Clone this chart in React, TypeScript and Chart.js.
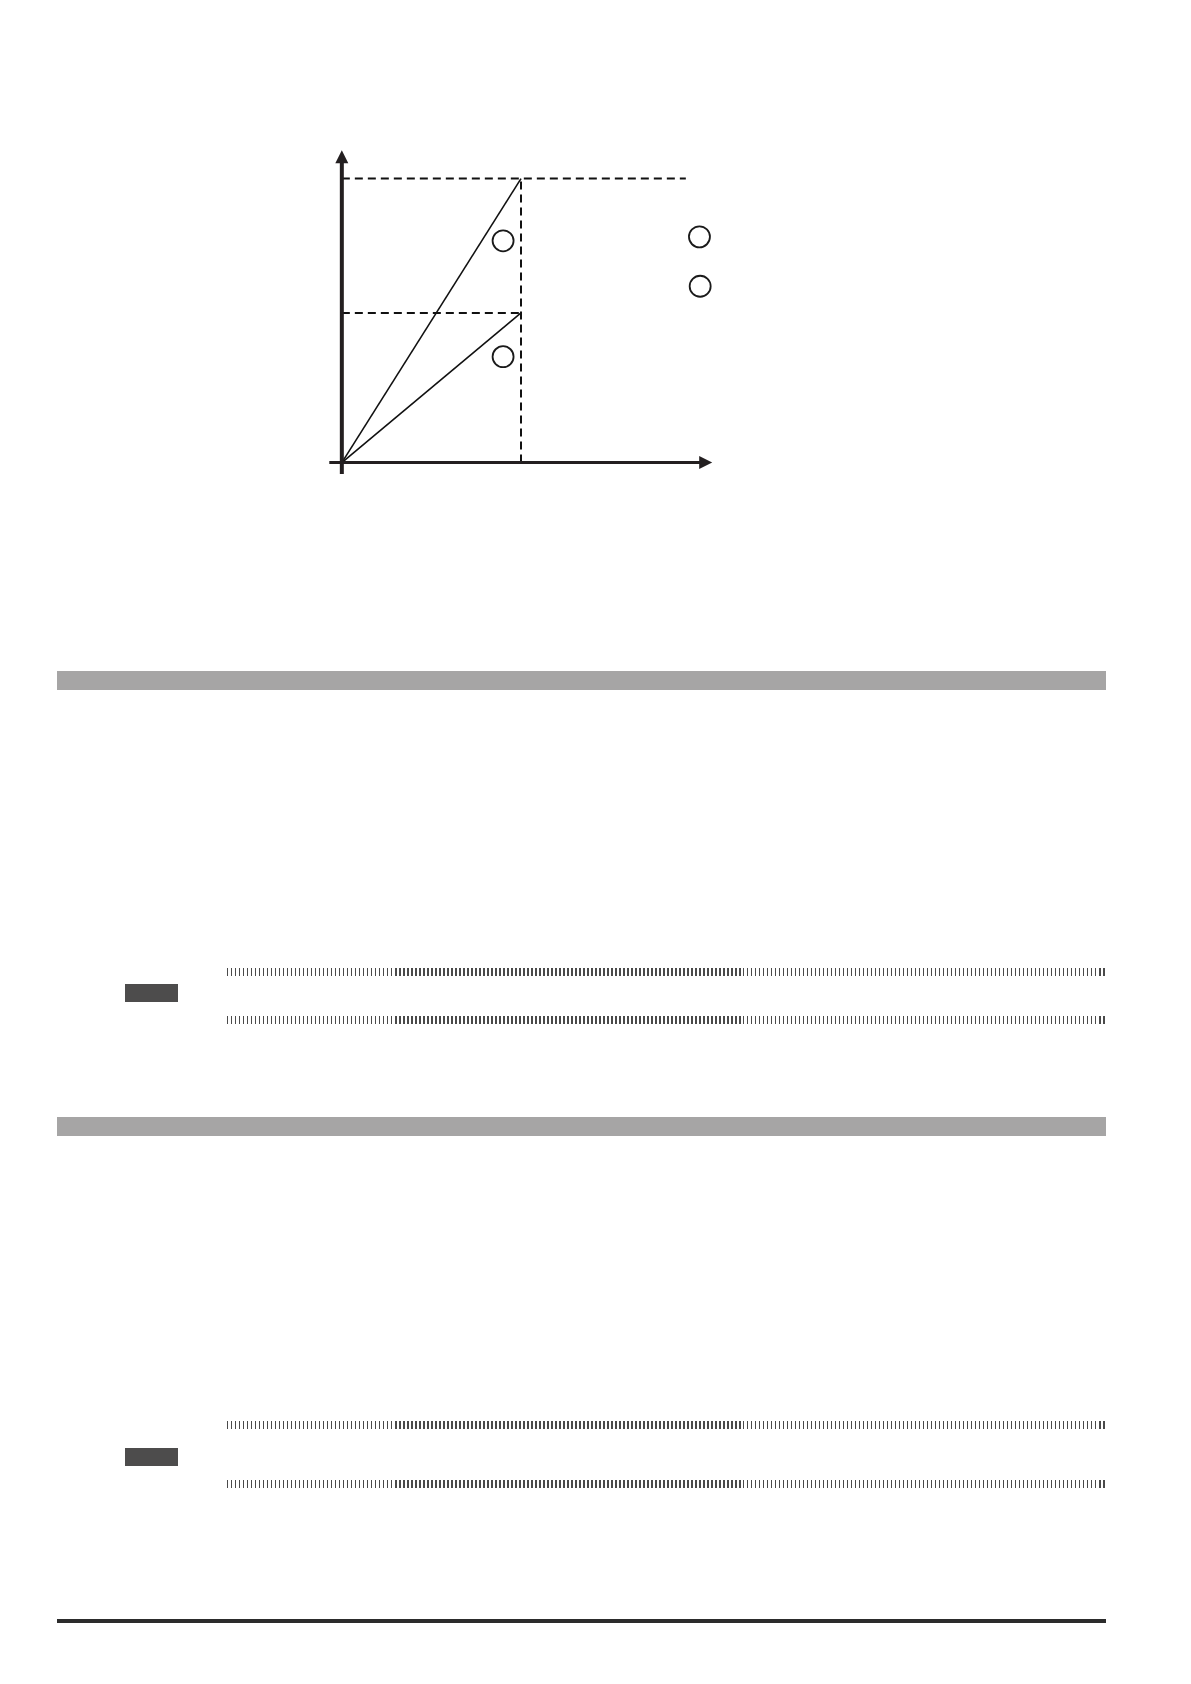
import React, { useEffect, useRef } from 'react';
import { Chart, registerables } from 'chart.js';

Chart.register(...registerables);

// diagram values (origin = 0,0; dashed vertical at x = 1; top level at y = 1)
const steepLine = [{ x: 0, y: 0 }, { x: 1, y: 1 }];
const shallowLine = [{ x: 0, y: 0 }, { x: 1, y: 0.527 }];
const topLevel = [{ x: 0, y: 1 }, { x: 1.92, y: 1 }];
const midLevel = [{ x: 0, y: 0.527 }, { x: 1, y: 0.527 }];
const dropLine = [{ x: 1, y: 0 }, { x: 1, y: 1 }];
const markers = [
    { x: 0.9, y: 0.781 },
    { x: 0.9, y: 0.373 },
    { x: 1.996, y: 0.795 },
    { x: 2.0, y: 0.621 },
];
const xAxisExtent = [-0.07, 2.067];
const yAxisExtent = [-0.04, 1.1];
const xRange = [-0.2, 2.2];
const yRange = [-0.1, 1.15];

const axisArrows = {
    id: 'axisArrows',
    afterDatasetsDraw(chart: Chart) {
        const { ctx } = chart;
        const xs = chart.scales.x;
        const ys = chart.scales.y;
        const ox = xs.getPixelForValue(0);
        const oy = ys.getPixelForValue(0);
        ctx.save();
        ctx.strokeStyle = '#231f20';
        ctx.fillStyle = '#231f20';
        // x axis
        const xEnd = xs.getPixelForValue(xAxisExtent[1]);
        ctx.lineWidth = 3;
        ctx.beginPath();
        ctx.moveTo(xs.getPixelForValue(xAxisExtent[0]), oy);
        ctx.lineTo(xEnd - 10, oy);
        ctx.stroke();
        ctx.beginPath();
        ctx.moveTo(xEnd, oy);
        ctx.lineTo(xEnd - 13, oy - 6.5);
        ctx.lineTo(xEnd - 13, oy + 6.5);
        ctx.closePath();
        ctx.fill();
        // y axis
        const yEnd = ys.getPixelForValue(yAxisExtent[1]);
        ctx.lineWidth = 4;
        ctx.beginPath();
        ctx.moveTo(ox, ys.getPixelForValue(yAxisExtent[0]));
        ctx.lineTo(ox, yEnd + 10);
        ctx.stroke();
        ctx.beginPath();
        ctx.moveTo(ox, yEnd);
        ctx.lineTo(ox - 6.5, yEnd + 13);
        ctx.lineTo(ox + 6.5, yEnd + 13);
        ctx.closePath();
        ctx.fill();
        ctx.restore();
    },
};

const solid = (data: { x: number; y: number }[]) => ({
    type: 'line' as const,
    data,
    borderColor: '#111111',
    borderWidth: 1.6,
    pointRadius: 0,
    fill: false,
});

const dashed = (data: { x: number; y: number }[]) => ({
    type: 'line' as const,
    data,
    borderColor: '#111111',
    borderWidth: 2,
    borderDash: [8, 5],
    pointRadius: 0,
    fill: false,
});

const Diagram: React.FC = () => {
    const chartRef = useRef<HTMLCanvasElement>(null);
    const chartInstanceRef = useRef<Chart | null>(null);

    useEffect(() => {
        if (!chartRef.current) return;
        if (chartInstanceRef.current) chartInstanceRef.current.destroy();
        chartInstanceRef.current = new Chart(chartRef.current, {
            type: 'scatter',
            data: {
                datasets: [
                    dashed(topLevel),
                    dashed(midLevel),
                    dashed(dropLine),
                    solid(steepLine),
                    solid(shallowLine),
                    {
                        type: 'scatter',
                        data: markers,
                        pointRadius: 10.5,
                        pointBorderWidth: 1.8,
                        pointBorderColor: '#1a1a1a',
                        pointBackgroundColor: '#ffffff',
                    },
                ],
            },
            options: {
                responsive: false,
                animation: false,
                layout: { padding: 0, autoPadding: false },
                plugins: { legend: { display: false }, tooltip: { enabled: false } },
                scales: {
                    x: { type: 'linear', display: false, min: xRange[0], max: xRange[1] },
                    y: { type: 'linear', display: false, min: yRange[0], max: yRange[1] },
                },
            },
            plugins: [axisArrows],
        });
        return () => {
            chartInstanceRef.current?.destroy();
            chartInstanceRef.current = null;
        };
    }, []);

    return (
        <canvas
            ref={chartRef}
            width={430}
            height={355}
            style={{ position: 'absolute', left: 306, top: 136, width: 430, height: 355 }}
        />
    );
};

const box = (left: number, top: number, width: number, height: number, background: string): React.CSSProperties => ({
    position: 'absolute', left, top, width, height, background,
});

const sparse = 'repeating-linear-gradient(90deg, #4a4a4a 0 1px, transparent 1px 4px)';
const dense = 'repeating-linear-gradient(90deg, #4a4a4a 0 2px, transparent 2px 4px)';

const Leader: React.FC<{ top: number }> = ({ top }) => (
    <>
        <div style={box(227, top, 168, 8, sparse)} />
        <div style={box(395, top, 346, 8, dense)} />
        <div style={box(743, top, 356, 8, sparse)} />
        <div style={box(1099, top, 7, 8, dense)} />
    </>
);

const App: React.FC = () => (
    <div style={{ position: 'absolute', left: 0, top: 0, width: 1191, height: 1684, background: '#fff' }}>
        <Diagram />
        <div style={box(57, 671, 1049, 19, '#a6a5a5')} />
        <Leader top={968} />
        <div style={box(125, 984, 53, 18, '#4d4c4c')} />
        <Leader top={1016} />
        <div style={box(57, 1117, 1049, 19, '#a6a5a5')} />
        <Leader top={1421} />
        <div style={box(125, 1448, 53, 18, '#4d4c4c')} />
        <Leader top={1480} />
        <div style={box(57, 1619, 1049, 4, '#2c2c2c')} />
    </div>
);

export default App;
